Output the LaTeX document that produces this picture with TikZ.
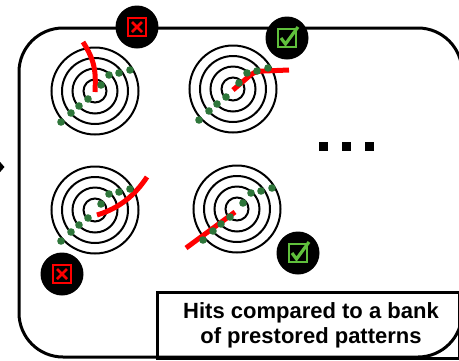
\documentclass[tikz,border=0pt]{standalone}
\usepackage{fontspec}
\setmainfont{Liberation Sans}
\usetikzlibrary{arrows.meta}
\definecolor{hitgreen}{RGB}{46,118,58}
\definecolor{okgreen}{RGB}{96,192,60}
\tikzset{
  ring/.style={line width=2pt},
  track/.style={red, line width=5pt},
  hit/.style={fill=hitgreen},
  badge/.style={circle, fill=black, minimum size=43pt, inner sep=0pt},
  rejectmark/.pic={
    \draw[red, line width=2.5pt] (-9,-9) rectangle (9,9);
    \draw[red, line width=2.6pt] (-5,-5) -- (5,5) (-5,5) -- (5,-5);
  },
  acceptmark/.pic={
    \draw[okgreen, line width=2.5pt] (-9,-9) rectangle (9,9);
    \draw[okgreen, line width=3.2pt, line join=miter] (-6,0) -- (-1.5,6) -- (11,-11);
  }
}
\begin{document}
\begin{tikzpicture}[x=1pt, y=-1pt]
\useasboundingbox (0,0) rectangle (459,360);
% incoming arrow and outer frame
\coordinate (feed) at (-30,167);
\coordinate (entry) at (4.5,167);
\draw[line width=2pt, -{Triangle[length=8pt,width=18pt]}] (feed) -- (entry);
\draw[line width=3pt, rounded corners=44pt] (19,28) rectangle (462,357);
% targets with their hit tracks
\foreach \cx/\cy in {95/91, 233/89, 95/210, 237/209} {
  \foreach \r in {11.5,22.5,33,43.5}
    \draw[ring] (\cx,\cy) circle (\r pt);
}
\coordinate (t1) at (95,91);
\coordinate (t2) at (233,89);
\coordinate (t3) at (95,210);
\coordinate (t4) at (237,209);
\draw[track] (83,42) .. controls (95,61) and (96,71) .. (95,92);
\draw[track] (233,90) -- (247,78) .. controls (252,73) and (256,71) .. (264,71) -- (289,70);
\draw[track] (97,215) .. controls (120,208) and (135,195) .. (147,177);
\draw[track] (235,212) -- (186,248);
\foreach \cx/\cy in {95/91, 233/89, 95/210, 237/209} {
  \foreach \dx/\dy in {-34/31,-24/22,-16/15,-7/8,6/-6,14/-16,24/-18,35/-21}
    \fill[hit] (\cx+\dx,\cy+\dy) circle (3.8pt);
}
% more patterns
\foreach \x in {323,346,369}
  \fill (\x-4.5,141.5) rectangle (\x+4.5,150.5);
% match results
\node[badge] (b1) at (137,27) {};
\node[badge] (b2) at (287,38) {};
\node[badge] (b3) at (62,274) {};
\node[badge] (b4) at (298,253) {};
\pic at (b1) {rejectmark};
\pic at (b2) {acceptmark};
\pic at (b3) {rejectmark};
\pic at (b4) {acceptmark};
% caption
\draw[line width=3pt] (157,292) rectangle (459,358);
\node[align=center, font=\fontsize{22}{25}\selectfont\bfseries] (caption) at (311,325) {Hits compared to a bank\\of prestored patterns};
\end{tikzpicture}
\end{document}
